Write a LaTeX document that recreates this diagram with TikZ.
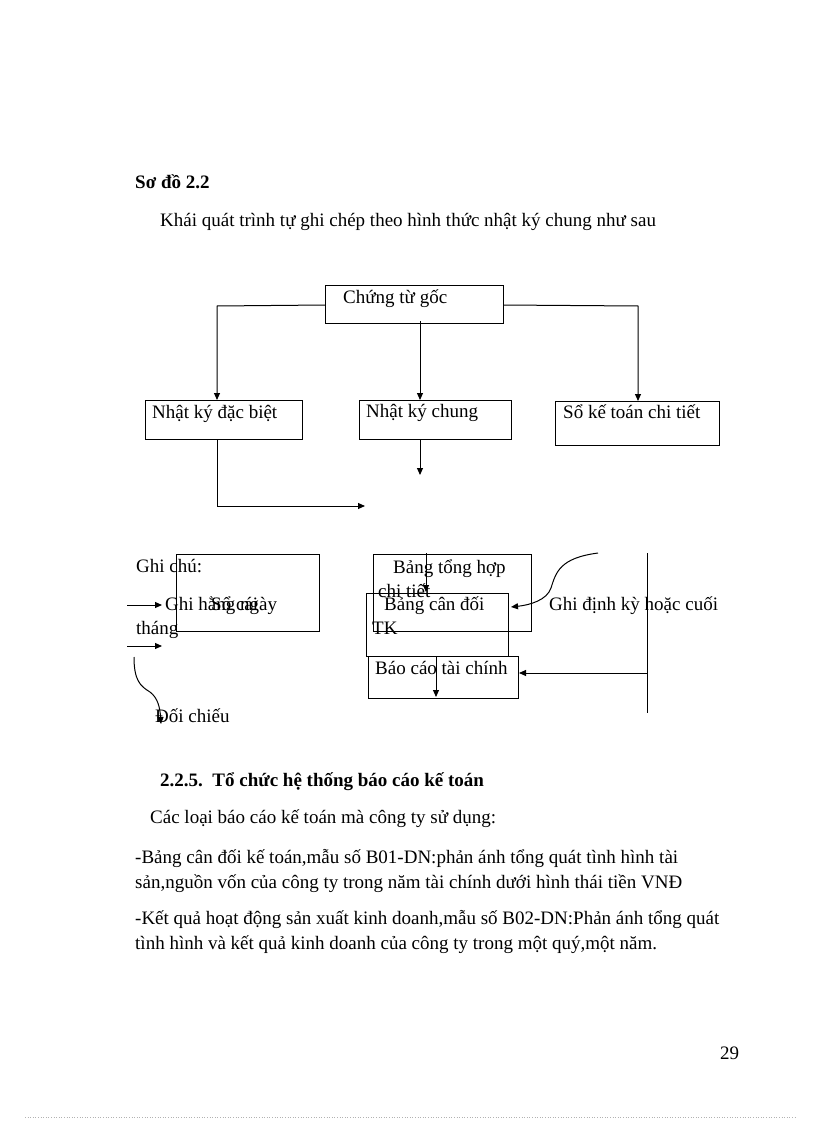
\documentclass[tikz,border=0pt]{standalone}
\usepackage{fontspec}
\setmainfont{Liberation Serif}
\usetikzlibrary{arrows.meta}
\begin{document}
\begin{tikzpicture}[x=1pt,y=-1pt,
  txt/.style={inner sep=0pt,anchor=base west,font=\fontsize{19}{23}\selectfont},
  btxt/.style={txt,font=\fontsize{19}{23}\selectfont\bfseries},
  box/.style={draw,line width=1pt,inner sep=0pt,anchor=north west},
  ln/.style={line width=1pt},
  arr/.style={line width=1pt,-{Triangle[length=7pt,width=6pt]}}]
\useasboundingbox[fill=white] (0,0) rectangle (816,1123);
% headings
\node[btxt] (title) at (135,189) {Sơ đồ 2.2};
\node[txt] (intro) at (160,226) {Khái quát trình tự ghi chép theo hình thức nhật ký chung như sau};
% boxes
\node[box,minimum width=178pt,minimum height=38pt] (ctg) at (325,285) {};
\node[box,minimum width=157pt,minimum height=39pt] (nkdb) at (145,400) {};
\node[box,minimum width=152pt,minimum height=39pt] (nkc) at (359,400) {};
\node[box,minimum width=164pt,minimum height=44pt] (sktct) at (555,401) {};
\node[box,minimum width=143pt,minimum height=77pt] (socai) at (176,554) {};
\node[box,minimum width=158pt,minimum height=77pt] (bth) at (373,554) {};
\node[box,minimum width=142pt,minimum height=63pt] (bcd) at (366,593) {};
\node[box,minimum width=150pt,minimum height=42pt] (bctc) at (368,656) {};
% box texts
\node[txt] (tctg) at (343,303) {Chứng từ gốc};
\node[txt] (tnkdb) at (152,418) {Nhật ký đặc biệt};
\node[txt] (tnkc) at (366,417) {Nhật ký chung};
\node[txt] (tsktct) at (563,418) {Sổ kế toán chi tiết};
\node[txt] (tsocai) at (211,610) {Sổ cái};
\node[txt] (tbth1) at (393,573) {Bảng tổng hợp};
\node[txt] (tbth2) at (378,597) {chi tiết};
\node[txt] (tbcd1) at (384,610) {Bảng cân đối};
\node[txt] (tbcd2) at (372,634) {TK};
\node[txt] (tbctc) at (375,674) {Báo cáo tài chính};
% legend texts
\node[txt] (ghichu) at (136,572) {Ghi chú:};
\node[txt] (ghihn) at (165,610) {Ghi hằng ngày};
\node[txt] (thang) at (136,634) {tháng};
\node[txt] (doichieu) at (155,722) {Đối chiếu};
\node[txt] (ghidk) at (549,610) {Ghi định kỳ hoặc cuối};
% connectors top
\coordinate (l1) at (325,305);
\coordinate (l2) at (217,306);
\coordinate (r1) at (503,305);
\coordinate (r2) at (638,306);
\draw[arr] (l1) -- (l2) -- (l2 |- nkdb.north);
\draw[arr] (420,321) -- (420,400);
\draw[arr] (r1) -- (r2) -- (r2 |- sktct.north);
\coordinate (nkcend) at (420,475);
\draw[arr] (420,439) -- (nkcend);
\coordinate (nkdbd) at (217,506);
\coordinate (nkdbend) at (365,506);
\draw[arr] (217,439) -- (nkdbd) -- (nkdbend);
% lower connectors
\coordinate (bthin) at (426,592);
\draw[arr] (426,553) -- (bthin);
\coordinate (bctcin) at (436,697);
\draw[arr] (436,656) -- (bctcin);
\coordinate (vtop) at (647,553);
\coordinate (vbot) at (647,713);
\draw[ln] (vtop) -- (vbot);
\coordinate (harr) at (647,673);
\draw[arr] (harr) -- (harr -| bctc.east);
\coordinate (cstart) at (598,553);
\coordinate (cend) at (511,607);
\draw[arr] (cstart) .. controls (560,558) and (556,572) .. (551,588) .. controls (547,600) and (530,605) .. (cend);
% legend arrows
\coordinate (a1s) at (127,605);
\coordinate (a1e) at (162,605);
\draw[arr] (a1s) -- (a1e);
\coordinate (a2s) at (127,646);
\coordinate (a2e) at (162,646);
\draw[arr] (a2s) -- (a2e);
\coordinate (c2s) at (134,657);
\coordinate (c2e) at (161,724);
\draw[arr] (c2s) .. controls (134,680) and (140,686) .. (150,692) .. controls (158,698) and (160,708) .. (c2e);
% section text
\node[btxt] (sec) at (160,786) {2.2.5.\ \ Tổ chức hệ thống báo cáo kế toán};
\node[txt] (p1) at (150,823) {Các loại báo cáo kế toán mà công ty sử dụng:};
\node[txt] (p2) at (135,863) {-Bảng cân đối kế toán,mẫu số B01-DN:phản ánh tổng quát tình hình tài};
\node[txt] (p3) at (135,888) {sản,nguồn vốn của công ty trong năm tài chính dưới hình thái tiền VNĐ};
\node[txt] (p4) at (135,924) {-Kết quả hoạt động sản xuất kinh doanh,mẫu số B02-DN:Phản ánh tổng quát};
\node[txt] (p5) at (135,949) {tình hình và kết quả kinh doanh của công ty trong một quý,một năm.};
\node[txt] (pg) at (720,1059) {29};
\coordinate (d1) at (25,1117);
\coordinate (d2) at (795,1117);
\draw[gray!60,line width=0.6pt,dotted] (d1) -- (d2);
\end{tikzpicture}
\end{document}
